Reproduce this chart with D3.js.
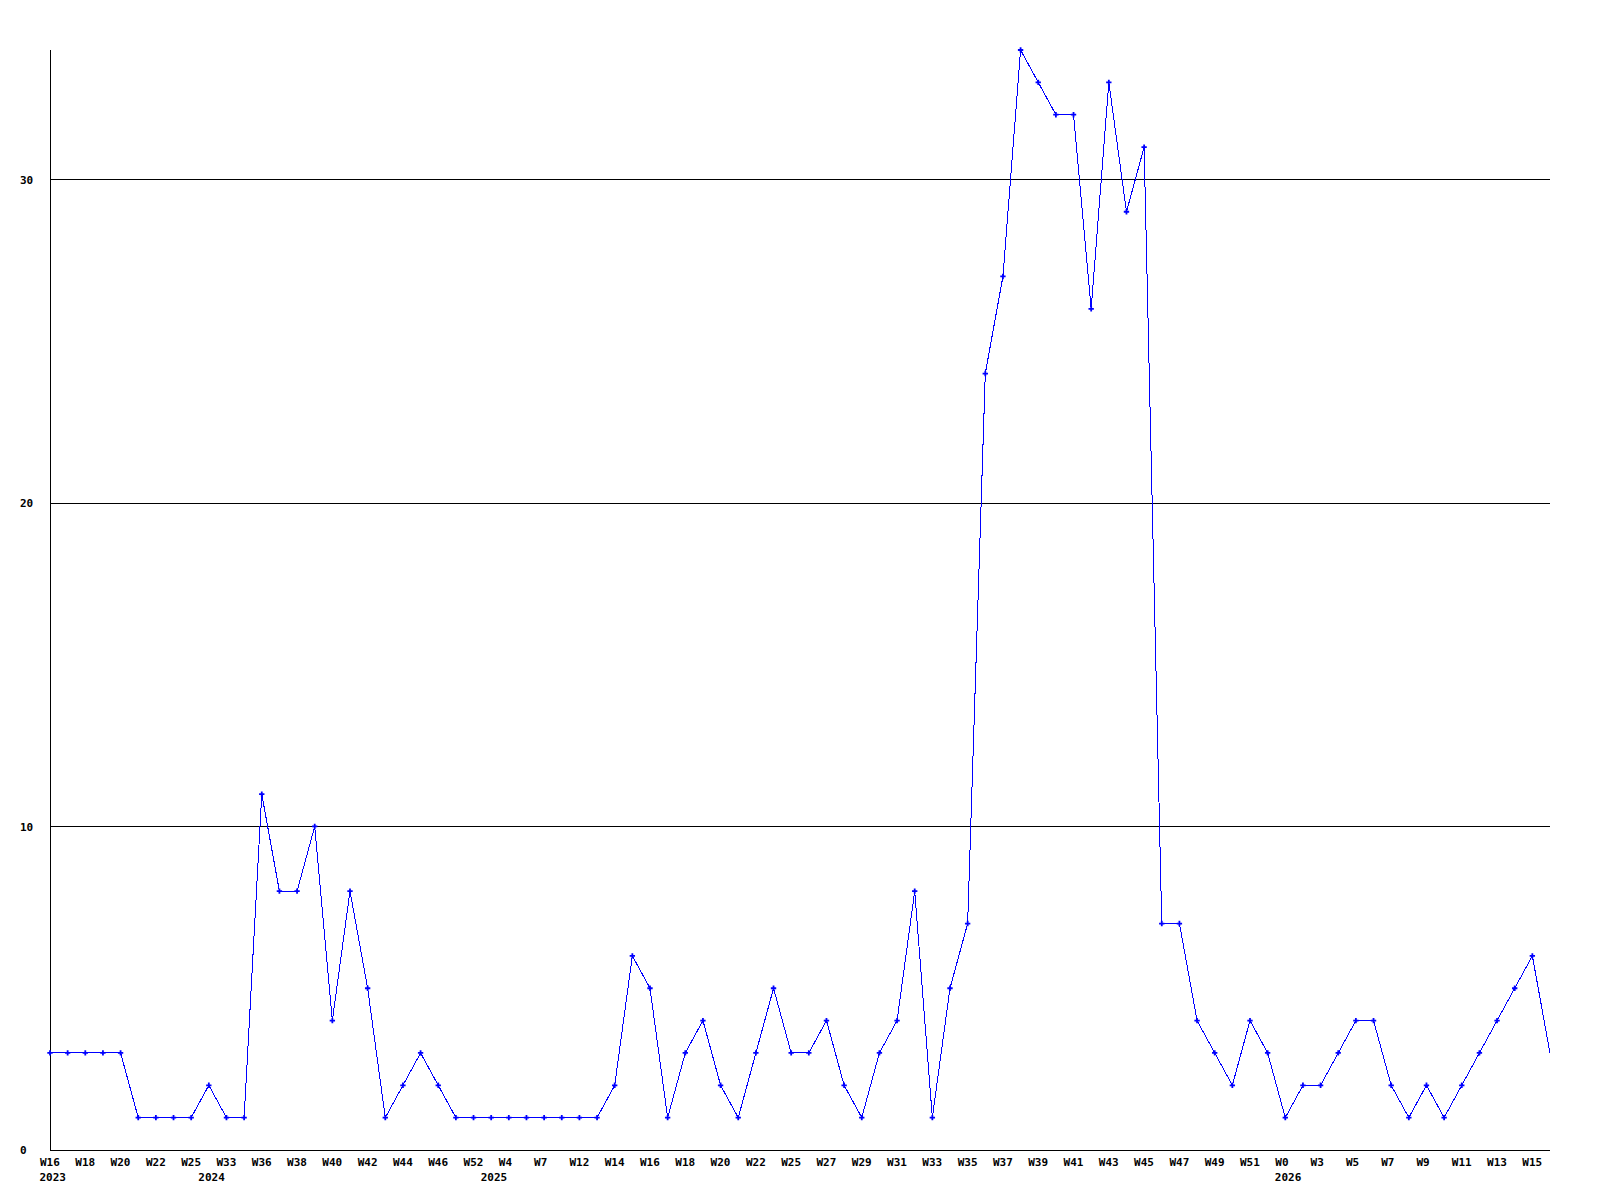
<!DOCTYPE html>
<html>
<head>
<meta charset="utf-8">
<script src="https://cdn.jsdelivr.net/npm/d3@7"></script>
<style>
  html, body { margin: 0; padding: 0; background: #fff; }
  svg { display: block; }
  text { font-family: "DejaVu Sans Mono", "Liberation Mono", monospace; font-weight: bold; font-size: 11px; fill: #000; }
</style>
</head>
<body>
<svg id="chart" width="1600" height="1200"></svg>
<script>
// ---- data ----
const weekLabels = [
  "W16","W17","W18","W19","W20","W21","W22","W24","W25","W32",
  "W33","W35","W36","W37","W38","W39","W40","W41","W42","W43",
  "W44","W45","W46","W48","W52","W1","W4","W6","W7","W10",
  "W12","W13","W14","W15","W16","W17","W18","W19","W20","W21",
  "W22","W24","W25","W26","W27","W28","W29","W30","W31","W32",
  "W33","W34","W35","W36","W37","W38","W39","W40","W41","W42",
  "W43","W44","W45","W46","W47","W48","W49","W50","W51","W52",
  "W0","W2","W3","W4","W5","W6","W7","W8","W9","W10",
  "W11","W12","W13","W14","W15","W16"
];
const values = [
  3,3,3,3,3,1,1,1,1,2,
  1,1,11,8,8,10,4,8,5,1,
  2,3,2,1,1,1,1,1,1,1,
  1,1,2,6,5,1,3,4,2,1,
  3,5,3,3,4,2,1,3,4,8,
  1,5,7,24,27,34,33,32,32,26,
  33,29,31,7,7,4,3,2,4,3,
  1,2,2,3,4,4,2,1,2,1,
  2,3,4,5,6,3
];
const yearLabels = ["2023","2024","2025","2026"];
const yearStartIdx = [0, 9, 25, 70];
const yTicks = [0, 10, 20, 30];

// ---- layout ----
const svg = d3.select("#chart");
const mLeft = 50, mRight = 1550, mTop = 50, mBottom = 1150;

const idx = d3.range(values.length);
const x = d3.scalePoint().domain(idx).range([mLeft, mRight]);
const y = d3.scaleLinear().domain([0, 34]).range([mBottom, mTop]);

// gridlines
svg.append("g")
  .selectAll("line")
  .data(yTicks.filter(d => d > 0))
  .join("line")
  .attr("x1", mLeft).attr("x2", mRight)
  .attr("y1", d => Math.round(y(d)) + 0.5)
  .attr("y2", d => Math.round(y(d)) + 0.5)
  .attr("stroke", "#000")
  .attr("stroke-width", 1)
  .attr("shape-rendering", "crispEdges");

// y axis
const yAxis = svg.append("g")
  .attr("transform", `translate(${mLeft + 0.5},0)`)
  .call(d3.axisLeft(y).tickValues(yTicks).tickSize(0).tickFormat(d3.format("d")));
yAxis.attr("font-family", null).attr("font-size", null);
yAxis.select(".domain").attr("stroke", "#000").attr("shape-rendering", "crispEdges")
  .attr("d", `M0,${mTop}V${mBottom}`);
yAxis.selectAll(".tick text")
  .attr("text-anchor", "start")
  .attr("x", 20 - (mLeft + 0.5))
  .attr("dy", "0.35em");

// x axis
const xAxis = svg.append("g")
  .attr("transform", `translate(0,${mBottom + 0.5})`)
  .call(d3.axisBottom(x).tickValues(idx.filter(i => i % 2 === 0)).tickSize(0)
    .tickFormat(i => weekLabels[i]));
xAxis.attr("font-family", null).attr("font-size", null);
xAxis.select(".domain").attr("stroke", "#000").attr("shape-rendering", "crispEdges")
  .attr("d", `M${mLeft},0H${mRight}`);
xAxis.selectAll(".tick text")
  .attr("text-anchor", "start")
  .attr("x", -10.5)
  .attr("y", 15.5)
  .attr("dy", null);

// year labels
svg.append("g")
  .selectAll("text")
  .data(yearStartIdx)
  .join("text")
  .attr("x", d => x(d) - 10.5)
  .attr("y", mBottom + 31)
  .attr("text-anchor", "start")
  .text((d, i) => yearLabels[i]);

// line
const line = d3.line().x((d, i) => x(i)).y(d => y(d));
svg.append("path")
  .datum(values)
  .attr("d", line)
  .attr("fill", "none")
  .attr("stroke", "#0000ff")
  .attr("stroke-width", 1)
  .attr("shape-rendering", "crispEdges");

// markers
const sym = d3.symbol().type(d3.symbolCross).size(16);
svg.append("g")
  .selectAll("path")
  .data(values.slice(0, values.length - 1))
  .join("path")
  .attr("transform", (d, i) => `translate(${x(i)},${y(d)})`)
  .attr("d", sym)
  .attr("fill", "#0000ff");
</script>
</body>
</html>
